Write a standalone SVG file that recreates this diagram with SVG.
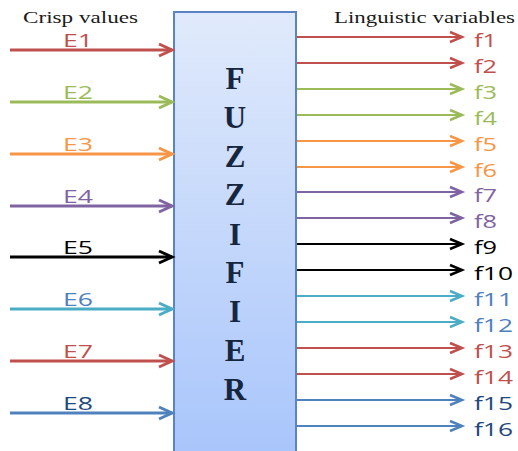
<svg xmlns="http://www.w3.org/2000/svg" width="518" height="451" viewBox="0 0 518 451">
<style>
.ttl{font-family:"Liberation Serif","Times New Roman",serif;font-size:16px;fill:#1a1a1a}
.lbl{font-family:"Open Sans","Liberation Sans",Arial,sans-serif;font-size:17.5px}
.big{font-family:"Liberation Serif","Times New Roman",serif;font-size:31px;font-weight:bold;fill:#17263f;text-anchor:middle}
.in{stroke-width:3;fill:none}
.out{stroke-width:2;fill:none}
</style>
<defs>
<linearGradient id="g" x1="0" y1="0" x2="0" y2="1">
<stop offset="0" stop-color="#e0eafb"/>
<stop offset="1" stop-color="#a8c5fb"/>
</linearGradient>
<marker id="mr" markerUnits="userSpaceOnUse" markerWidth="20" markerHeight="20" viewBox="-16 -10 20 20" refX="0" refY="0" orient="auto"><path d="M-13,-6 L0,0 L-13,6" fill="none" stroke="#c0504d" stroke-width="3"/></marker>
<marker id="mg" markerUnits="userSpaceOnUse" markerWidth="20" markerHeight="20" viewBox="-16 -10 20 20" refX="0" refY="0" orient="auto"><path d="M-13,-6 L0,0 L-13,6" fill="none" stroke="#9bbb59" stroke-width="3"/></marker>
<marker id="mo" markerUnits="userSpaceOnUse" markerWidth="20" markerHeight="20" viewBox="-16 -10 20 20" refX="0" refY="0" orient="auto"><path d="M-13,-6 L0,0 L-13,6" fill="none" stroke="#f79646" stroke-width="3"/></marker>
<marker id="mp" markerUnits="userSpaceOnUse" markerWidth="20" markerHeight="20" viewBox="-16 -10 20 20" refX="0" refY="0" orient="auto"><path d="M-13,-6 L0,0 L-13,6" fill="none" stroke="#8064a2" stroke-width="3"/></marker>
<marker id="mk" markerUnits="userSpaceOnUse" markerWidth="20" markerHeight="20" viewBox="-16 -10 20 20" refX="0" refY="0" orient="auto"><path d="M-13,-6 L0,0 L-13,6" fill="none" stroke="#000" stroke-width="3"/></marker>
<marker id="mt" markerUnits="userSpaceOnUse" markerWidth="20" markerHeight="20" viewBox="-16 -10 20 20" refX="0" refY="0" orient="auto"><path d="M-13,-6 L0,0 L-13,6" fill="none" stroke="#4bacc6" stroke-width="3"/></marker>
<marker id="mb" markerUnits="userSpaceOnUse" markerWidth="20" markerHeight="20" viewBox="-16 -10 20 20" refX="0" refY="0" orient="auto"><path d="M-13,-6 L0,0 L-13,6" fill="none" stroke="#4f81bd" stroke-width="3"/></marker>
<marker id="sr" markerUnits="userSpaceOnUse" markerWidth="20" markerHeight="20" viewBox="-16 -10 20 20" refX="0" refY="0" orient="auto"><path d="M-12,-5 L0,0 L-12,5" fill="none" stroke="#c0504d" stroke-width="2.5"/></marker>
<marker id="sg" markerUnits="userSpaceOnUse" markerWidth="20" markerHeight="20" viewBox="-16 -10 20 20" refX="0" refY="0" orient="auto"><path d="M-12,-5 L0,0 L-12,5" fill="none" stroke="#9bbb59" stroke-width="2.5"/></marker>
<marker id="so" markerUnits="userSpaceOnUse" markerWidth="20" markerHeight="20" viewBox="-16 -10 20 20" refX="0" refY="0" orient="auto"><path d="M-12,-5 L0,0 L-12,5" fill="none" stroke="#f79646" stroke-width="2.5"/></marker>
<marker id="sp" markerUnits="userSpaceOnUse" markerWidth="20" markerHeight="20" viewBox="-16 -10 20 20" refX="0" refY="0" orient="auto"><path d="M-12,-5 L0,0 L-12,5" fill="none" stroke="#8064a2" stroke-width="2.5"/></marker>
<marker id="sk" markerUnits="userSpaceOnUse" markerWidth="20" markerHeight="20" viewBox="-16 -10 20 20" refX="0" refY="0" orient="auto"><path d="M-12,-5 L0,0 L-12,5" fill="none" stroke="#000" stroke-width="2.5"/></marker>
<marker id="st" markerUnits="userSpaceOnUse" markerWidth="20" markerHeight="20" viewBox="-16 -10 20 20" refX="0" refY="0" orient="auto"><path d="M-12,-5 L0,0 L-12,5" fill="none" stroke="#4bacc6" stroke-width="2.5"/></marker>
<marker id="sb" markerUnits="userSpaceOnUse" markerWidth="20" markerHeight="20" viewBox="-16 -10 20 20" refX="0" refY="0" orient="auto"><path d="M-12,-5 L0,0 L-12,5" fill="none" stroke="#4f81bd" stroke-width="2.5"/></marker>
</defs>
<rect width="518" height="451" fill="#fff"/>

<g id="fuzzifier">
<rect x="174" y="12" width="122" height="445" fill="url(#g)" stroke="#5b84c4" stroke-width="2"/>
<text class="big" x="235" y="89">F</text>
<text class="big" x="235" y="128">U</text>
<text class="big" x="235" y="167">Z</text>
<text class="big" x="235" y="205">Z</text>
<text class="big" x="235" y="245">I</text>
<text class="big" x="235" y="283">F</text>
<text class="big" x="235" y="322">I</text>
<text class="big" x="235" y="361">E</text>
<text class="big" x="235" y="400">R</text>
</g>

<g id="titles">
<text class="ttl" x="23" y="23" textLength="115" lengthAdjust="spacingAndGlyphs">Crisp values</text>
<text class="ttl" x="334" y="23" textLength="181" lengthAdjust="spacingAndGlyphs">Linguistic  variables</text>
</g>

<g id="connectors">
<line class="in" x1="10" y1="50" x2="172" y2="50" stroke="#c0504d" marker-end="url(#mr)"/>
<line class="in" x1="10" y1="102" x2="172" y2="102" stroke="#9bbb59" marker-end="url(#mg)"/>
<line class="in" x1="10" y1="154" x2="172" y2="154" stroke="#f79646" marker-end="url(#mo)"/>
<line class="in" x1="10" y1="206" x2="172" y2="206" stroke="#8064a2" marker-end="url(#mp)"/>
<line class="in" x1="10" y1="257" x2="172" y2="257" stroke="#000" marker-end="url(#mk)"/>
<line class="in" x1="10" y1="309" x2="172" y2="309" stroke="#4bacc6" marker-end="url(#mt)"/>
<line class="in" x1="10" y1="361" x2="172" y2="361" stroke="#c0504d" marker-end="url(#mr)"/>
<line class="in" x1="10" y1="413" x2="172" y2="413" stroke="#4f81bd" marker-end="url(#mb)"/>

<line class="out" x1="297" y1="37" x2="462" y2="37" stroke="#c0504d" marker-end="url(#sr)"/>
<line class="out" x1="297" y1="63" x2="462" y2="63" stroke="#c0504d" marker-end="url(#sr)"/>
<line class="out" x1="297" y1="89" x2="462" y2="89" stroke="#9bbb59" marker-end="url(#sg)"/>
<line class="out" x1="297" y1="115" x2="462" y2="115" stroke="#9bbb59" marker-end="url(#sg)"/>
<line class="out" x1="297" y1="141" x2="462" y2="141" stroke="#f79646" marker-end="url(#so)"/>
<line class="out" x1="297" y1="167" x2="462" y2="167" stroke="#f79646" marker-end="url(#so)"/>
<line class="out" x1="297" y1="192" x2="462" y2="192" stroke="#8064a2" marker-end="url(#sp)"/>
<line class="out" x1="297" y1="218" x2="462" y2="218" stroke="#8064a2" marker-end="url(#sp)"/>
<line class="out" x1="297" y1="244" x2="462" y2="244" stroke="#000" marker-end="url(#sk)"/>
<line class="out" x1="297" y1="270" x2="462" y2="270" stroke="#000" marker-end="url(#sk)"/>
<line class="out" x1="297" y1="296" x2="462" y2="296" stroke="#4bacc6" marker-end="url(#st)"/>
<line class="out" x1="297" y1="322" x2="462" y2="322" stroke="#4bacc6" marker-end="url(#st)"/>
<line class="out" x1="297" y1="348" x2="462" y2="348" stroke="#c0504d" marker-end="url(#sr)"/>
<line class="out" x1="297" y1="374" x2="462" y2="374" stroke="#c0504d" marker-end="url(#sr)"/>
<line class="out" x1="297" y1="400" x2="462" y2="400" stroke="#4f81bd" marker-end="url(#sb)"/>
<line class="out" x1="297" y1="426" x2="462" y2="426" stroke="#4f81bd" marker-end="url(#sb)"/>
</g>

<g id="inputs">
<text class="lbl" x="63" y="47" fill="#c0504d" textLength="30" lengthAdjust="spacingAndGlyphs">E1</text>
<text class="lbl" x="63" y="99" fill="#9bbb59" textLength="30" lengthAdjust="spacingAndGlyphs">E2</text>
<text class="lbl" x="63" y="151" fill="#f79646" textLength="30" lengthAdjust="spacingAndGlyphs">E3</text>
<text class="lbl" x="63" y="203" fill="#8064a2" textLength="30" lengthAdjust="spacingAndGlyphs">E4</text>
<text class="lbl" x="63" y="254" fill="#000" textLength="30" lengthAdjust="spacingAndGlyphs">E5</text>
<text class="lbl" x="63" y="306" fill="#4f81bd" textLength="30" lengthAdjust="spacingAndGlyphs">E6</text>
<text class="lbl" x="63" y="358" fill="#c0504d" textLength="30" lengthAdjust="spacingAndGlyphs">E7</text>
<text class="lbl" x="63" y="410" fill="#1f497d" textLength="30" lengthAdjust="spacingAndGlyphs">E8</text>
</g>

<g id="outputs">
<text class="lbl" x="474" y="47" fill="#c0504d" textLength="23" lengthAdjust="spacingAndGlyphs">f1</text>
<text class="lbl" x="474" y="73" fill="#c0504d" textLength="23" lengthAdjust="spacingAndGlyphs">f2</text>
<text class="lbl" x="474" y="99" fill="#9bbb59" textLength="23" lengthAdjust="spacingAndGlyphs">f3</text>
<text class="lbl" x="474" y="125" fill="#9bbb59" textLength="23" lengthAdjust="spacingAndGlyphs">f4</text>
<text class="lbl" x="474" y="151" fill="#f79646" textLength="23" lengthAdjust="spacingAndGlyphs">f5</text>
<text class="lbl" x="474" y="177" fill="#f79646" textLength="23" lengthAdjust="spacingAndGlyphs">f6</text>
<text class="lbl" x="474" y="202" fill="#8064a2" textLength="23" lengthAdjust="spacingAndGlyphs">f7</text>
<text class="lbl" x="474" y="228" fill="#8064a2" textLength="23" lengthAdjust="spacingAndGlyphs">f8</text>
<text class="lbl" x="474" y="254" fill="#000" textLength="23" lengthAdjust="spacingAndGlyphs">f9</text>
<text class="lbl" x="474" y="280" fill="#000" textLength="39" lengthAdjust="spacingAndGlyphs">f10</text>
<text class="lbl" x="474" y="306" fill="#4f81bd" textLength="39" lengthAdjust="spacingAndGlyphs">f11</text>
<text class="lbl" x="474" y="332" fill="#4f81bd" textLength="39" lengthAdjust="spacingAndGlyphs">f12</text>
<text class="lbl" x="474" y="358" fill="#c0504d" textLength="39" lengthAdjust="spacingAndGlyphs">f13</text>
<text class="lbl" x="474" y="384" fill="#c0504d" textLength="39" lengthAdjust="spacingAndGlyphs">f14</text>
<text class="lbl" x="474" y="410" fill="#1f497d" textLength="39" lengthAdjust="spacingAndGlyphs">f15</text>
<text class="lbl" x="474" y="436" fill="#1f497d" textLength="39" lengthAdjust="spacingAndGlyphs">f16</text>
</g>
</svg>
